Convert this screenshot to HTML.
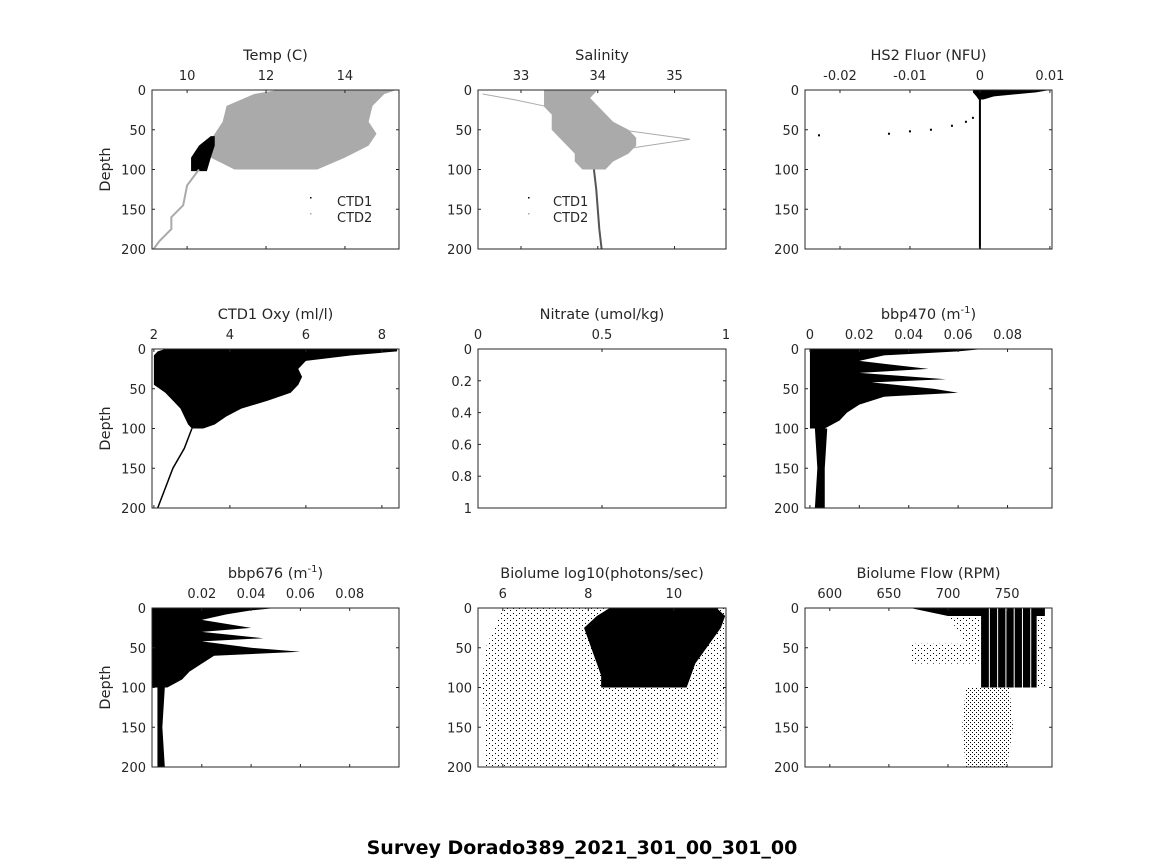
<!DOCTYPE html>
<html><head><meta charset="utf-8"><style>
html,body{margin:0;padding:0;background:#fff;}
svg{display:block;font-family:"DejaVu Sans","Liberation Sans",sans-serif;}
</style></head><body>
<svg id="fig" width="1164" height="864" viewBox="0 0 1164 864">
<defs>
<pattern id="dots" width="6" height="5" patternUnits="userSpaceOnUse"><rect x="0" y="0" width="1" height="1" fill="#000"/><rect x="3" y="3" width="1" height="1" fill="#000"/></pattern>
<pattern id="dots2" width="4" height="4" patternUnits="userSpaceOnUse"><rect x="0" y="0" width="1" height="1" fill="#000"/><rect x="2" y="2" width="1" height="1" fill="#000"/></pattern>
</defs>
<text x="582" y="854" text-anchor="middle" font-size="19" font-weight="bold">Survey Dorado389_2021_301_00_301_00</text>
</svg>
<script>
// ---- data ----
const depthTicks=[0,50,100,150,200];
const tempTicks=[10,12,14];
const tempDepth=[0,5,20,40,55,70,85,100];
const tempGrayL=[12.3,11.7,11.0,10.9,10.7,10.5,10.6,11.2];
const tempGrayR=[15.3,15.0,14.7,14.6,14.8,14.6,14.0,13.3];
const tempBlkDepth=[58,70,85,102];
const tempBlkL=[10.6,10.3,10.1,10.1];
const tempBlkR=[10.7,10.7,10.6,10.5];
const tempTailDepth=[100,120,145,160,175,190,200];
const tempTailVal=[10.3,10.0,9.9,9.6,9.6,9.3,9.15];
const salTicks=[33,34,35];
const salDepth=[0,10,20,30,40,50,60,70,80,90,100];
const salL=[33.3,33.3,33.3,33.4,33.4,33.4,33.5,33.6,33.7,33.7,33.8];
const salR=[34.0,33.9,34.0,34.1,34.2,34.4,34.5,34.5,34.4,34.2,34.1];
const salOut1Depth=[5,12,20,30];
const salOut1Val=[32.5,32.9,33.3,33.4];
const salOut2Depth=[50,62,75];
const salOut2Val=[34.3,35.2,34.3];
const salTailDepth=[100,125,150,175,200];
const salTailVal=[33.95,33.98,34.0,34.02,34.05];
const fluTicks=[-0.02,-0.01,0,0.01];
const fluSpikeDepth=[0,3,8,12];
const fluSpikeL=[-0.001,-0.001,-0.0005,-0.0002];
const fluSpikeR=[0.01,0.008,0.002,0.0005];
const fluPtsVal=[-0.023,-0.013,-0.010,-0.007,-0.004,-0.002,-0.001];
const fluPtsDepth=[57,55,52,50,45,40,35];
const oxyTicks=[2,4,6,8];
const oxyDepth=[0,3,8,15,25,35,45,55,65,75,85,95,100];
const oxyL=[2.3,2.1,2.0,2.0,2.0,2.0,2.0,2.3,2.5,2.7,2.8,2.9,3.0];
const oxyR=[8.4,8.4,7.2,6.0,5.8,5.9,5.8,5.6,5.0,4.3,3.9,3.6,3.3];
const oxyTailDepth=[100,125,150,175,200];
const oxyTailVal=[3.0,2.8,2.5,2.3,2.1];
const nitTicks=[0,0.5,1];
const nitDepthTicks=[0,0.2,0.4,0.6,0.8,1];
const bbpTicks470=[0,0.02,0.04,0.06,0.08];
const bbpTicks676=[0.02,0.04,0.06,0.08];
const bbpDepth=[0,3,8,15,25,30,38,42,50,55,60,70,80,90,100];
const bbp470R=[0.07,0.06,0.03,0.02,0.048,0.02,0.055,0.025,0.05,0.06,0.03,0.02,0.015,0.012,0.006];
const bbp676R=[0.05,0.04,0.03,0.02,0.04,0.02,0.045,0.02,0.04,0.06,0.025,0.02,0.015,0.012,0.006];
const bbpTailDepth=[100,150,200];
const bbp470TailL=[0.002,0.003,0.002];
const bbp470TailR=[0.007,0.006,0.006];
const bbp676TailL=[0.002,0.002,0.002];
const bbp676TailR=[0.005,0.004,0.005];
const bioTicks=[6,8,10];
const bioDepth=[0,10,25,40,55,70,85,100];
const bioL=[8.5,8.2,7.9,8.0,8.1,8.2,8.3,8.3];
const bioR=[11.0,11.2,11.1,10.9,10.7,10.5,10.4,10.3];
const bioSparseDepth=[0,50,100,150,200];
const bioSparseL=[6.0,5.6,5.5,5.6,5.6];
const bioSparseR=[11.2,11.2,11.2,11.1,11.0];
const flowTicks=[600,650,700,750];
const flowBlockDepth=[0,100];
const flowBlockL=[728,728];
const flowBlockR=[775,775];
const flowTopDepth=[0,10];
const flowTopL=[668,700];
const flowTopR=[782,782];
const flowMidDepth=[45,70];
const flowMidL=[668,668];
const flowMidR=[728,728];
const flowDeepDepth=[100,150,200];
const flowDeepL=[715,712,715];
const flowDeepR=[752,755,750];
const flowStripes=[735,742,749,756,763,770];

const NS='http://www.w3.org/2000/svg';
const svg=document.getElementById('fig');
function mk(tag,attrs,parent){const e=document.createElementNS(NS,tag);for(const k in attrs)e.setAttribute(k,attrs[k]);(parent||svg).appendChild(e);return e;}
const cols=[[152,399],[478,726],[805,1052]];
const rows=[[90,249],[349,508],[608,767]];
function panel(c,r,xmin,xmax,ymin,ymax,name){
  const [x0,x1]=cols[c],[y0,y1]=rows[r];
  const g=mk('g',{});
  
  
  return {g,x:v=>x0+(v-xmin)/(xmax-xmin)*(x1-x0),y:v=>y0+(v-ymin)/(ymax-ymin)*(y1-y0),x0,x1,y0,y1};
}
function frame(p,title,xt,xl,yt,yl,ylabel,name){
  const b=mk('rect',{x:p.x0,y:p.y0,width:p.x1-p.x0,height:p.y1-p.y0,fill:'none',stroke:'#262626','stroke-width':1},p.g);
  
  
  xt.forEach((v,i)=>{const X=p.x(v);
    mk('line',{x1:X,x2:X,y1:p.y0,y2:p.y0+3,stroke:'#262626'},p.g);
    mk('line',{x1:X,x2:X,y1:p.y1,y2:p.y1-3,stroke:'#262626'},p.g);
    const t=mk('text',{x:X,y:p.y0-10,'text-anchor':'middle','font-size':13,fill:'#262626'},p.g);t.textContent=xl[i];
    
    });
  yt.forEach((v,i)=>{const Y=p.y(v);
    mk('line',{x1:p.x0,x2:p.x0+3,y1:Y,y2:Y,stroke:'#262626'},p.g);
    mk('line',{x1:p.x1,x2:p.x1-3,y1:Y,y2:Y,stroke:'#262626'},p.g);
    const t=mk('text',{x:p.x0-6,y:Y+5,'text-anchor':'end','font-size':13,fill:'#262626'},p.g);t.textContent=yl[i];
    
    });
  const tt=mk('text',{x:(p.x0+p.x1)/2,y:p.y0-30,'text-anchor':'middle','font-size':14.5,fill:'#262626'},p.g);
  tt.innerHTML=title;
  
  
  if(ylabel){const yl2=mk('text',{x:0,y:0,'text-anchor':'middle','font-size':14.5,fill:'#262626',transform:`translate(${p.x0-42},${(p.y0+p.y1)/2}) rotate(-90)`},p.g);
    yl2.textContent='Depth';
    
    }
}
function env(p,d,L,R,fill,name){
  const pts=[];d.forEach((v,i)=>pts.push(p.x(L[i])+','+p.y(v)));
  for(let i=d.length-1;i>=0;i--)pts.push(p.x(R[i])+','+p.y(d[i]));
  const e=mk('polygon',{points:pts.join(' '),fill:fill},p.g);
  
  return e;
}
function line(p,d,V,stroke,w,name){
  const e=mk('polyline',{points:d.map((v,i)=>p.x(V[i])+','+p.y(v)).join(' '),fill:'none',stroke:stroke,'stroke-width':w},p.g);
  
  return e;
}
const dl=depthTicks.map(String);
// Temp
let p=panel(0,0,9.11,15.37,0,200,'temp');
env(p,tempDepth,tempGrayL,tempGrayR,'#aaaaaa','temp-ctd2-cloud');
env(p,tempBlkDepth,tempBlkL,tempBlkR,'#000','temp-ctd1-cloud');
line(p,tempTailDepth,tempTailVal,'#aaaaaa',2,'temp-deep-profile');
frame(p,'Temp (C)',tempTicks,tempTicks.map(String),depthTicks,dl,true,'temp');
[['CTD1',202,'#000'],['CTD2',218,'#aaa']].forEach(([s,y,c])=>{mk('rect',{x:310,y:y-5,width:1.5,height:1.5,fill:c},p.g);
 const t=mk('text',{x:337,y:y+4,'font-size':13,fill:'#262626'},p.g);t.textContent=s;
 
 });
// Salinity
p=panel(1,0,32.44,35.67,0,200,'salinity');
env(p,salDepth,salL,salR,'#aaaaaa','salinity-cloud');
line(p,salOut1Depth,salOut1Val,'#aaaaaa',1,'salinity-outlier-shallow');
line(p,salOut2Depth,salOut2Val,'#aaaaaa',1,'salinity-outlier-loop');
line(p,salTailDepth,salTailVal,'#555',2,'salinity-deep-profile');
frame(p,'Salinity',salTicks,salTicks.map(String),depthTicks,dl,false,'salinity');
[['CTD1',202,'#000'],['CTD2',218,'#aaa']].forEach(([s,y,c])=>{mk('rect',{x:528,y:y-5,width:1.5,height:1.5,fill:c},p.g);
 const t=mk('text',{x:553,y:y+4,'font-size':13,fill:'#262626'},p.g);t.textContent=s;
 
 });
// Fluor
p=panel(2,0,-0.025,0.0103,0,200,'fluor');
env(p,fluSpikeDepth,fluSpikeL,fluSpikeR,'#000','fluor-surface-spike');
line(p,[5,200],[0,0],'#000',2,'fluor-profile');
fluPtsVal.forEach((v,i)=>{const e=mk('rect',{x:p.x(v)-1,y:p.y(fluPtsDepth[i])-1,width:2,height:2,fill:'#000'},p.g);
 
 });
frame(p,'HS2 Fluor (NFU)',fluTicks,['-0.02','-0.01','0','0.01'],depthTicks,dl,false,'fluor');
// Oxy
p=panel(0,1,1.95,8.45,0,200,'oxygen');
env(p,oxyDepth,oxyL,oxyR,'#000','oxygen-cloud');
line(p,oxyTailDepth,oxyTailVal,'#000',1.5,'oxygen-deep-profile');
frame(p,'CTD1 Oxy (ml/l)',oxyTicks,oxyTicks.map(String),depthTicks,dl,true,'oxygen');
// Nitrate
p=panel(1,1,0,1,0,1,'nitrate');
frame(p,'Nitrate (umol/kg)',nitTicks,['0','0.5','1'],nitDepthTicks,['0','0.2','0.4','0.6','0.8','1'],false,'nitrate');
// bbp470
p=panel(2,1,-0.002,0.098,0,200,'bbp470');
env(p,bbpDepth,bbpDepth.map(()=>0),bbp470R,'#000','bbp470-cloud');
env(p,bbpTailDepth,bbp470TailL,bbp470TailR,'#000','bbp470-deep-band');
frame(p,'bbp470 (m<tspan dy="-6" font-size="10">-1</tspan><tspan dy="6">)</tspan>',bbpTicks470,['0','0.02','0.04','0.06','0.08'],depthTicks,dl,false,'bbp470');
// bbp676
p=panel(0,2,-0.0002,0.1,0,200,'bbp676');
env(p,bbpDepth,bbpDepth.map(()=>0),bbp676R,'#000','bbp676-cloud');
env(p,bbpTailDepth,bbp676TailL,bbp676TailR,'#000','bbp676-deep-band');
frame(p,'bbp676 (m<tspan dy="-6" font-size="10">-1</tspan><tspan dy="6">)</tspan>',bbpTicks676,['0.02','0.04','0.06','0.08'],depthTicks,dl,true,'bbp676');
// Biolume
p=panel(1,2,5.42,11.22,0,200,'biolume');
env(p,bioSparseDepth,bioSparseL,bioSparseR,'url(#dots)','biolume-sparse-scatter');
env(p,bioDepth,bioL,bioR,'#000','biolume-dense-cloud');
frame(p,'Biolume log10(photons/sec)',bioTicks,bioTicks.map(String),depthTicks,dl,false,'biolume');
// Flow
p=panel(2,2,579,788,0,200,'flow');
env(p,flowDeepDepth,flowDeepL,flowDeepR,'url(#dots2)','flow-deep-scatter');
env(p,flowMidDepth,flowMidL,flowMidR,'url(#dots)','flow-mid-scatter');
env(p,[10,100],[700,740],[782,782],'url(#dots)','flow-side-scatter');
env(p,flowTopDepth,flowTopL,flowTopR,'#000','flow-top-band');
env(p,flowBlockDepth,flowBlockL,flowBlockR,'#000','flow-block');
flowStripes.forEach(v=>{const e=mk('line',{x1:p.x(v),x2:p.x(v),y1:p.y(0),y2:p.y(100),stroke:'#fff','stroke-width':1},p.g);
 
 });
frame(p,'Biolume Flow (RPM)',flowTicks,flowTicks.map(String),depthTicks,dl,false,'flow');
</script>
</body></html>
